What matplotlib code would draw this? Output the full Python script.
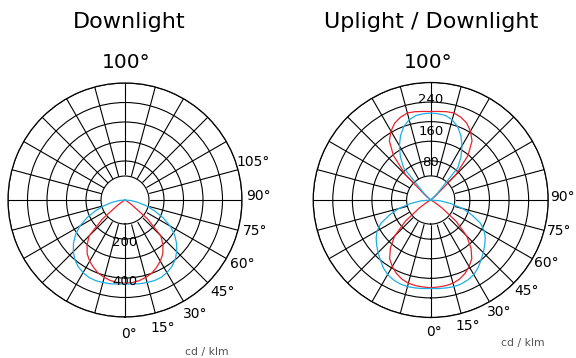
import numpy as np
import matplotlib.pyplot as plt

# angle from the lamp axis, degrees
angles = np.arange(0, 95, 5)

# Downlight (cd/klm), C0-C180 (red) and C90-C270 (blue)
down_red = [427, 425, 420, 411, 400, 382, 362, 338, 303, 260, 150, 40, 10, 0, 0, 0, 0, 0, 0]
down_blue = [431, 433, 436, 438, 440, 438, 430, 418, 400, 375, 345, 310, 268, 215, 160, 110, 65, 30, 0]

# Uplight / Downlight (cd/klm)
ud_low_red = [224, 223, 222, 220, 215, 207, 196, 183, 160, 130, 85, 35, 10, 0, 0, 0, 0, 0, 0]
ud_low_blue = [226, 227, 228, 229, 228, 225, 220, 211, 200, 190, 180, 170, 158, 140, 112, 85, 52, 25, 0]
ud_up_red = [226, 227, 229, 230, 225, 217, 203, 184, 148, 90, 15, 0, 0, 0, 0, 0, 0, 0, 0]
ud_up_blue = [222, 221, 219, 212, 200, 182, 160, 135, 108, 25, 0, 0, 0, 0, 0, 0, 0, 0, 0]

left_max, left_rings, left_labels = 600, [100, 200, 300, 400, 500, 600], [200, 400]
right_max, right_rings, right_labels = 300, [50, 100, 150, 200, 250, 300], [80, 160, 240]

RED = '#e8232b'
BLUE = '#1eaee6'


def lobe(vals, base=0):
    vals = np.asarray(vals, dtype=float)
    a = np.concatenate([-angles[::-1], angles[1:]])
    v = np.concatenate([vals[::-1], vals[1:]])
    return np.deg2rad(base + a), v


def setup(ax, rmax, rings):
    ax.set_theta_zero_location('S')
    ax.set_theta_direction(1)
    ax.set_ylim(0, rmax)
    ax.set_axisbelow(True)
    ax.set_xticks(np.deg2rad(np.arange(0, 360, 15)))
    ax.set_xticklabels([])
    ax.set_yticks(rings)
    ax.set_yticklabels([])
    ax.grid(True, color='black', lw=0.8)
    ax.spines['polar'].set_color('black')
    ax.spines['polar'].set_linewidth(0.9)
    # inner hole
    th = np.linspace(0, 2 * np.pi, 300)
    hole = rmax * 24 / 117
    ax.fill_between(th, 0, hole, color='white', zorder=2)
    ax.plot(th, np.full_like(th, hole), color='black', lw=0.8, zorder=2.1)


fig = plt.figure(figsize=(5.76, 3.58), dpi=100)
W, H = 576, 358

axL = fig.add_axes([(125 - 117) / W, (358 - 317) / H, 234 / W, 234 / H], projection='polar')
axR = fig.add_axes([(430.7 - 117.5) / W, (358 - 317.5) / H, 235 / W, 235 / H], projection='polar')

setup(axL, left_max, left_rings)
setup(axR, right_max, right_rings)

t, v = lobe(down_red)
axL.plot(t, v, color=RED, lw=0.9, zorder=3)
t, v = lobe(down_blue)
axL.plot(t, v, color=BLUE, lw=0.9, zorder=3)

for vals, base, col in [(ud_low_red, 0, RED), (ud_low_blue, 0, BLUE),
                        (ud_up_red, 180, RED), (ud_up_blue, 180, BLUE)]:
    t, v = lobe(vals, base)
    axR.plot(t, v, color=col, lw=0.9, zorder=3)

# radial value labels
for val in left_labels:
    axL.text(0, val + 20, str(val), ha='center', va='center', fontsize=9.5, zorder=4)
for val in right_labels:
    axR.text(np.pi, val + 16, str(val), ha='center', va='center', fontsize=9.5, zorder=4)

# angle labels
for a in range(0, 120, 15):
    axL.text(np.deg2rad(a + 1.5), left_max * 1.145, f'{a}°', ha='center', va='center', fontsize=10)
for a in range(0, 105, 15):
    axR.text(np.deg2rad(a + 1.5), right_max * 1.12, f'{a}°', ha='center', va='center', fontsize=10)

fig.text(129 / W, 1 - 22 / H, 'Downlight', ha='center', va='center', fontsize=16)
fig.text(431.5 / W, 1 - 22 / H, 'Uplight / Downlight', ha='center', va='center', fontsize=16)
fig.text(126 / W, 1 - 63 / H, '100°', ha='center', va='center', fontsize=14.5)
fig.text(428 / W, 1 - 63 / H, '100°', ha='center', va='center', fontsize=14.5)
fig.text(207 / W, 1 - 352 / H, 'cd / klm', ha='center', va='center', fontsize=7.8, color='#555555')
fig.text(523 / W, 1 - 343 / H, 'cd / klm', ha='center', va='center', fontsize=7.8, color='#555555')

fig.savefig('out.png', dpi=100)
